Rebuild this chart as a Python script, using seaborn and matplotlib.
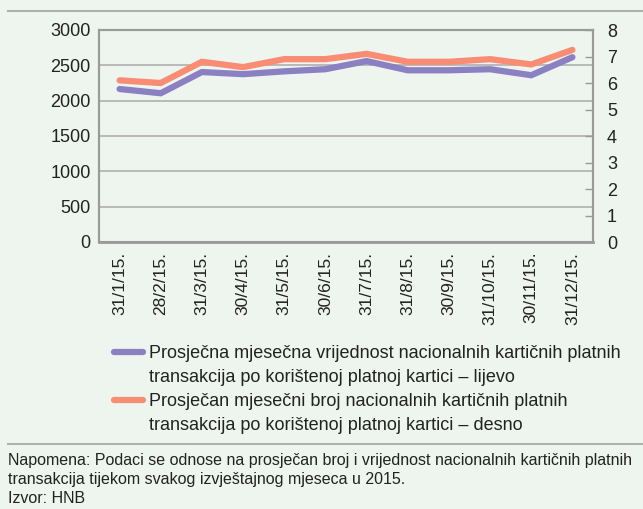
import matplotlib
matplotlib.use("Agg")
import matplotlib.pyplot as plt
from matplotlib.lines import Line2D
import seaborn as sns
import pandas as pd

dates = ["31/1/15.", "28/2/15.", "31/3/15.", "30/4/15.", "31/5/15.", "30/6/15.",
         "31/7/15.", "31/8/15.", "30/9/15.", "31/10/15.", "30/11/15.", "31/12/15."]
value_left = [2165, 2105, 2405, 2375, 2415, 2445, 2560, 2430, 2430, 2445, 2360, 2615]
count_right = [6.1, 6.0, 6.8, 6.6, 6.9, 6.9, 7.1, 6.8, 6.8, 6.9, 6.7, 7.25]

label_left = ["Prosječna mjesečna vrijednost nacionalnih kartičnih platnih",
              "transakcija po korištenoj platnoj kartici – lijevo"]
label_right = ["Prosječan mjesečni broj nacionalnih kartičnih platnih",
               "transakcija po korištenoj platnoj kartici – desno"]
note = ("Napomena: Podaci se odnose na prosječan broj i vrijednost nacionalnih kartičnih platnih\n"
        "transakcija tijekom svakog izvještajnog mjeseca u 2015.\n"
        "Izvor: HNB")

BG = "#eef4ee"
PURPLE = "#8a80c2"
ORANGE = "#f98c73"
GRID = "#b4b4b4"
SPINE = "#9a9a9a"

plt.rcParams['font.family'] = ['Liberation Sans', 'DejaVu Sans']

df = pd.DataFrame({"x": list(range(len(dates))), "v": value_left, "c": count_right})

fig = plt.figure(figsize=(6.43, 5.09), dpi=100, facecolor=BG)
ax = fig.add_axes([99/643, 1-242/509, (593-99)/643, (242-30)/509])
ax.set_facecolor(BG)
ax2 = ax.twinx()

sns.lineplot(data=df, x="x", y="v", ax=ax, color=PURPLE, linewidth=4.5,
             solid_capstyle="round", solid_joinstyle="miter", zorder=3)
sns.lineplot(data=df, x="x", y="c", ax=ax2, color=ORANGE, linewidth=4.5,
             solid_capstyle="round", solid_joinstyle="miter", zorder=3)

ax.set_xlim(-0.5, len(dates) - 0.5)
ax.set_ylim(0, 3000)
ax2.set_ylim(0, 8)
ax.set_yticks(range(0, 3001, 500))
ax2.set_yticks(range(0, 9))
ax.set_xticks(range(len(dates)))
ax.set_xticklabels(dates, rotation=90, fontsize=12.5, color="#222222")
ax.set_xlabel("")
ax.set_ylabel("")
ax2.set_ylabel("")

ax.grid(axis="y", color=GRID, linewidth=1.3)
ax.grid(axis="x", visible=False)
ax2.grid(False)
ax.tick_params(axis="y", length=0, labelsize=13, pad=6, labelcolor="#222222")
ax.tick_params(axis="x", length=0, pad=7)
ax2.tick_params(axis="y", direction="in", length=6, width=1, color=SPINE,
                labelsize=13, pad=10, labelcolor="#222222")

for a in (ax, ax2):
    for s in a.spines.values():
        s.set_color(SPINE)
        s.set_linewidth(1.5)
ax.spines["bottom"].set_linewidth(2)

# legend: first line of each label next to its handle, second line without handle
handles = [Line2D([], [], color=PURPLE, linewidth=4.5, solid_capstyle="round"),
           Line2D([], [], color="none"),
           Line2D([], [], color=ORANGE, linewidth=4.5, solid_capstyle="round"),
           Line2D([], [], color="none")]
labels = [label_left[0], label_left[1], label_right[0], label_right[1]]
fig.legend(handles, labels, loc="upper left", bbox_to_anchor=(114/643, 1-345/509),
           frameon=False, fontsize=13, handlelength=1.6, handletextpad=0.35,
           labelspacing=0.39, borderaxespad=0, borderpad=0, labelcolor="#222222")

fig.add_artist(Line2D([8/643, 1], [1-11/509, 1-11/509], color="#b0b0b0", linewidth=1.5))
fig.add_artist(Line2D([8/643, 1], [1-444/509, 1-444/509], color="#b0b0b0", linewidth=1.5))

fig.text(8/643, 1-453/509, note, ha="left", va="top", fontsize=11.5, color="#222222",
         linespacing=1.32)

fig.savefig("out.png", dpi=100, facecolor=BG)
